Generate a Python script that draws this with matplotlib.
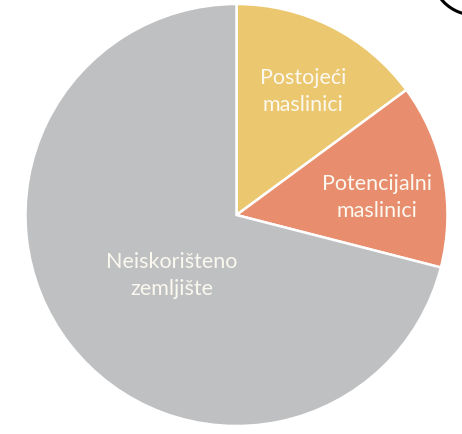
import numpy as np
import matplotlib
matplotlib.use("Agg")
import matplotlib.pyplot as plt
from matplotlib.patches import Arc

# Land use shares (percent)
categories = ["Postojeći\nmaslinici", "Potencijalni\nmaslinici", "Neiskorišteno\nzemljište"]
shares = [14.9, 14.1, 71.0]
colors = ["#EBC86F", "#E88E6E", "#BFC0C1"]
label_radius = [0.665, 0.67, 0.42]
label_shift_deg = [-1.5, -4.0, 5.0]

W, H, DPI = 462, 434, 100
fig = plt.figure(figsize=(W / DPI, H / DPI), dpi=DPI)
fig.patch.set_facecolor("white")

cx, cy, r = 236.5, 215, 211
ax = fig.add_axes([(cx - r) / W, 1 - (cy + r) / H, 2 * r / W, 2 * r / H])
ax.axis("off")

wedges, _ = ax.pie(
    shares,
    colors=colors,
    startangle=90,
    counterclock=False,
    radius=1,
    wedgeprops=dict(edgecolor="white", linewidth=1.8),
)
ax.set_xlim(-1, 1)
ax.set_ylim(-1, 1)
ax.set_aspect("equal")

for w, lab, d, s in zip(wedges, categories, label_radius, label_shift_deg):
    mid = np.deg2rad((w.theta1 + w.theta2) / 2 + s)
    ax.text(d * np.cos(mid), d * np.sin(mid), lab, ha="center", va="center",
            multialignment="center", color="#FBF8F0", fontsize=15.5,
            family=["Lato", "DejaVu Sans"], linespacing=1.45)

# partial circle outline at the upper right corner
ov = fig.add_axes([0, 0, 1, 1])
ov.set_xlim(0, W)
ov.set_ylim(H, 0)
ov.axis("off")
ov.add_patch(Arc((474.5, -28), 86, 86, theta1=0, theta2=360,
                 color="black", linewidth=2.2))

fig.savefig("out.png", dpi=DPI, facecolor="white")
